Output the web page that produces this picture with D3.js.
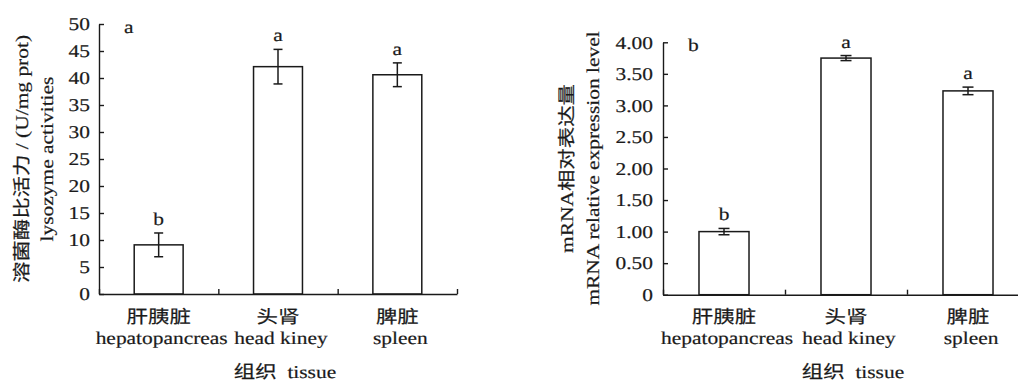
<!DOCTYPE html>
<html>
<head>
<meta charset="utf-8">
<script src="https://cdn.jsdelivr.net/npm/d3@7"></script>
<style>
  body { margin: 0; background: #fff; -webkit-font-smoothing: antialiased; }
  svg { display: block; }
  text { font-family: 'Liberation Serif', 'Noto Sans CJK SC', serif; fill: #1a1a1a; stroke: #1a1a1a; stroke-width: 0.2px; text-rendering: geometricPrecision; }
</style>
</head>
<body>
<div id="chart"></div>
<script>
// tissues
const tissuesCn = ['肝胰脏', '头肾', '脾脏'];
const tissuesEn = ['hepatopancreas', 'head kiney', 'spleen'];

// panel a: lysozyme activity
const lysoValues = [9.1, 42.1, 40.6];
const lysoErrors = [2.2, 3.2, 2.2];
const lysoLetters = ['b', 'a', 'a'];
const lysoTicks = [0, 5, 10, 15, 20, 25, 30, 35, 40, 45, 50];

// panel b: mRNA relative expression
const mrnaValues = [1.00, 3.75, 3.23];
const mrnaErrors = [0.05, 0.04, 0.06];
const mrnaLetters = ['b', 'a', 'a'];
const mrnaTicks = [0, 0.5, 1, 1.5, 2, 2.5, 3, 3.5, 4];

const ink = '#1a1a1a';
const fontSize = 18;
const widen = 1.19;   // glyphs in the original are wider than Liberation Serif

const svg = d3.select('#chart').append('svg')
    .attr('width', 1018)
    .attr('height', 382);

const panels = [
    {
        label: 'a', values: lysoValues, errors: lysoErrors, letters: lysoLetters,
        ticks: lysoTicks, max: 50, fmt: d => d,
        left: 99, right: 457, top: 24, bottom: 294, pad: 9, cap: 9,
        yLabels: ['溶菌酶比活力 / (U/mg prot)', 'lysozyme activities'], yLabelX: [22, 47]
    },
    {
        label: 'b', values: mrnaValues, errors: mrnaErrors, letters: mrnaLetters,
        ticks: mrnaTicks, max: 4, fmt: d => d === 0 ? '0' : d3.format('.2f')(d),
        left: 663, right: 1029, top: 42.3, bottom: 294.7, pad: 10, cap: 11,
        yLabels: ['mRNA相对表达量', 'mRNA relative expression level'], yLabelX: [567, 593]
    }
];

panels.forEach(p => {
    const g = svg.append('g');

    const x = d3.scaleBand().domain(tissuesEn).range([p.left, p.right]).padding(0);
    const edges = d3.scaleLinear().domain([0, tissuesEn.length]).range([p.left, p.right]);
    const y = d3.scaleLinear().domain([0, p.max]).range([p.bottom, p.top]);
    const barW = x.bandwidth() * 0.41;

    // bars
    g.selectAll('rect.bar')
        .data(p.values)
        .join('rect')
        .attr('class', 'bar')
        .attr('x', (d, i) => x(tissuesEn[i]) + (x.bandwidth() - barW) / 2)
        .attr('y', d => y(d))
        .attr('width', barW)
        .attr('height', d => y(0) - y(d))
        .attr('fill', '#fff')
        .attr('stroke', ink)
        .attr('stroke-width', 1.5);

    // error bars
    const cx = i => x(tissuesEn[i]) + x.bandwidth() / 2;
    const err = g.selectAll('g.err')
        .data(p.values)
        .join('g')
        .attr('class', 'err')
        .attr('stroke', ink)
        .attr('stroke-width', 1.5);
    err.append('line')
        .attr('x1', (d, i) => cx(i)).attr('x2', (d, i) => cx(i))
        .attr('y1', (d, i) => y(d - p.errors[i])).attr('y2', (d, i) => y(d + p.errors[i]));
    err.append('line')
        .attr('x1', (d, i) => cx(i) - p.cap / 2).attr('x2', (d, i) => cx(i) + p.cap / 2)
        .attr('y1', (d, i) => y(d + p.errors[i])).attr('y2', (d, i) => y(d + p.errors[i]));
    err.append('line')
        .attr('x1', (d, i) => cx(i) - p.cap / 2).attr('x2', (d, i) => cx(i) + p.cap / 2)
        .attr('y1', (d, i) => y(d - p.errors[i])).attr('y2', (d, i) => y(d - p.errors[i]));

    // significance letters
    g.selectAll('text.sig')
        .data(p.values)
        .join('text')
        .attr('class', 'sig')
        .attr('x', (d, i) => cx(i))
        .attr('y', (d, i) => y(d + p.errors[i]) - 8)
        .attr('text-anchor', 'middle')
        .attr('font-size', fontSize)
        .text((d, i) => p.letters[i]);

    // y axis, ticks pointing inward
    const yAxis = g.append('g')
        .attr('transform', `translate(${p.left},0)`)
        .call(d3.axisLeft(y).tickValues(p.ticks).tickFormat(p.fmt)
            .tickSize(-5).tickSizeOuter(0).tickPadding(p.pad));

    // x axis, ticks at category edges pointing up
    const xAxis = g.append('g')
        .attr('transform', `translate(0,${p.bottom})`)
        .call(d3.axisBottom(edges).tickValues(d3.range(tissuesEn.length + 1))
            .tickFormat('').tickSize(-5).tickSizeOuter(0));

    [yAxis, xAxis].forEach(a => {
        a.attr('font-family', null).attr('font-size', fontSize);
        a.selectAll('path, line').attr('stroke', ink).attr('stroke-width', 1.4);
        a.selectAll('text').attr('fill', ink);
    });

    // category labels
    g.selectAll('text.cn')
        .data(tissuesCn)
        .join('text')
        .attr('class', 'cn')
        .attr('x', (d, i) => cx(i))
        .attr('y', 323)
        .attr('text-anchor', 'middle')
        .attr('font-size', fontSize)
        .text(d => d);
    g.selectAll('text.en')
        .data(tissuesEn)
        .join('text')
        .attr('class', 'en')
        .attr('x', (d, i) => cx(i) + 3)
        .attr('y', 344)
        .attr('text-anchor', 'middle')
        .attr('font-size', fontSize)
        .text(d => d);

    // x axis title
    g.append('text')
        .attr('x', cx(1) + 7)
        .attr('y', 378)
        .attr('text-anchor', 'middle')
        .attr('font-size', fontSize)
        .attr('xml:space', 'preserve')
        .text('组织  tissue');

    // y axis titles
    const yMid = (p.top + p.bottom) / 2;
    p.yLabels.forEach((t, i) => {
        g.append('text')
            .attr('transform', `translate(${p.yLabelX[i]},${yMid}) rotate(-90)`)
            .attr('dy', '0.35em')
            .attr('text-anchor', 'middle')
            .attr('font-size', fontSize)
            .text(t);
    });

    // panel label
    g.append('text')
        .attr('x', p.left + 25)
        .attr('y', p.top + 9)
        .attr('font-size', fontSize)
        .text(p.label);
});

// widen every text to match the original's broader glyphs
svg.selectAll('text').each(function () {
    const t = d3.select(this);
    const tr = t.attr('transform');
    if (tr) {
        t.attr('transform', tr + ` scale(${widen},1)`);
    } else {
        const x0 = +t.attr('x') || 0;
        const y0 = +t.attr('y') || 0;
        t.attr('x', 0).attr('y', 0)
            .attr('transform', `translate(${x0},${y0}) scale(${widen},1)`);
    }
});
</script>
</body>
</html>
